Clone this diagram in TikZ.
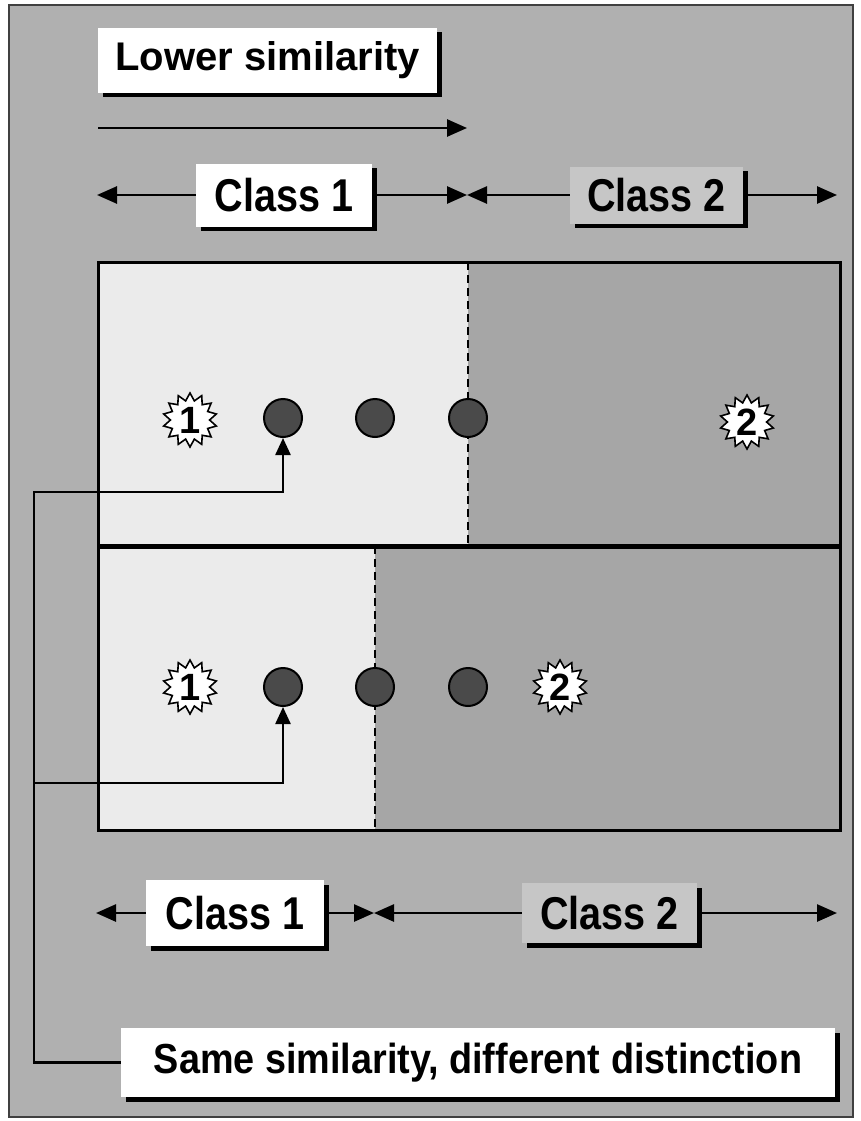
\documentclass[tikz,border=0pt]{standalone}
\usepackage{fontspec}
\setmainfont{Liberation Sans}
\usetikzlibrary{arrows.meta,shapes.geometric,shadows}
\definecolor{bg}{HTML}{B0B0B0}
\definecolor{lightpanel}{HTML}{EBEBEB}
\definecolor{darkpanel}{HTML}{A6A6A6}
\definecolor{dotfill}{HTML}{4A4A4A}
\definecolor{boxgray}{HTML}{C6C6C6}
\begin{document}
\begin{tikzpicture}[x=1pt,y=-1pt,
  arr/.style={line width=2.6pt,-{Triangle[length=20pt,width=17pt]}},
  conn/.style={line width=2.4pt,-{Triangle[length=17pt,width=15pt]}},
  labelbox/.style={fill=#1,inner sep=0pt,font=\bfseries,
     drop shadow={shadow xshift=4.5pt,shadow yshift=-4.5pt,fill=black,opacity=1}},
  dotnode/.style={circle,draw=black,line width=2pt,fill=dotfill,minimum size=38pt,inner sep=0pt},
  starnode/.style={star,star points=14,star point ratio=1.38,draw=black,line width=1.6pt,fill=white,
     minimum size=54pt,inner sep=0pt,font=\bfseries\fontsize{38}{40}\selectfont}]
% canvas
\useasboundingbox (0,0) rectangle (861,1121);
\fill[white] (0,0) rectangle (861,1121);
\fill[bg] (9,5) rectangle (853,1117);
\draw[line width=1.8pt,black!75] (9,5) rectangle (853,1117);
% panel
\fill[lightpanel] (98,262) rectangle (468,546);
\fill[darkpanel] (468,262) rectangle (840,546);
\fill[lightpanel] (98,546) rectangle (375,830);
\fill[darkpanel] (375,546) rectangle (840,830);
\draw[line width=2pt,dash pattern=on 8pt off 5pt] (468,262) -- (468,546);
\draw[line width=2pt,dash pattern=on 8pt off 5pt] (375,546) -- (375,830);
\draw[line width=3pt] (98,262) rectangle (840,830);
\draw[line width=5pt] (98,546) -- (840,546);
% top label
\node[labelbox=white,minimum width=339pt,minimum height=65pt] (low) at (267.5,60.5)
  {\fontsize{40}{44}\selectfont Lower similarity};
\coordinate (lowstart) at (98,128);
\coordinate (lowend) at (467,128);
\draw[arr] (lowstart) -- (lowend);
% top class row
\node[labelbox=white,minimum width=176pt,minimum height=63pt] (c1t) at (284,195)
  {\scalebox{0.86}[1]{\fontsize{46}{48}\selectfont Class 1}};
\node[labelbox=boxgray,minimum width=173pt,minimum height=57pt] (c2t) at (656.5,195)
  {\scalebox{0.86}[1]{\fontsize{46}{48}\selectfont Class 2}};
\coordinate (tl) at (97,195);
\coordinate (tm) at (467,195);
\coordinate (tr) at (837,195);
\draw[arr] (c1t.west) -- (tl);
\draw[arr] (c1t.east) -- (tm);
\draw[arr] (c2t.west) -- (tm);
\draw[arr] (c2t.east) -- (tr);
% top row points
\node[starnode] (s1) at (190,420) {1};
\node[dotnode] (d1) at (283,418) {};
\node[dotnode] (d2) at (375,418) {};
\node[dotnode] (d3) at (468,418) {};
\node[starnode] (s2) at (747,422) {2};
% bottom row points
\node[starnode] (t1) at (190,687) {1};
\node[dotnode] (e1) at (283,687) {};
\node[dotnode] (e2) at (375,687) {};
\node[dotnode] (e3) at (468,687) {};
\node[starnode] (t2) at (560,687) {2};
% lower class row
\node[labelbox=white,minimum width=178pt,minimum height=66pt] (c1b) at (235,913)
  {\scalebox{0.86}[1]{\fontsize{46}{48}\selectfont Class 1}};
\node[labelbox=boxgray,minimum width=175pt,minimum height=60pt] (c2b) at (609.5,913)
  {\scalebox{0.86}[1]{\fontsize{46}{48}\selectfont Class 2}};
\coordinate (bl) at (96,913);
\coordinate (bm) at (374,913);
\coordinate (br) at (837,913);
\draw[arr] (c1b.west) -- (bl);
\draw[arr] (c1b.east) -- (bm);
\draw[arr] (c2b.west) -- (bm);
\draw[arr] (c2b.east) -- (br);
% bottom note
\node[labelbox=white,minimum width=714pt,minimum height=69pt] (note) at (478,1062.5)
  {\scalebox{0.9}[1]{\fontsize{42}{46}\selectfont Same similarity, different distinction}};
% connectors
\coordinate (jtop) at (34,492);
\coordinate (jmid) at (34,783);
\draw[conn] (note.west) -| (jtop) -| (d1.south);
\draw[conn] (jmid) -| (e1.south);
\end{tikzpicture}
\end{document}
